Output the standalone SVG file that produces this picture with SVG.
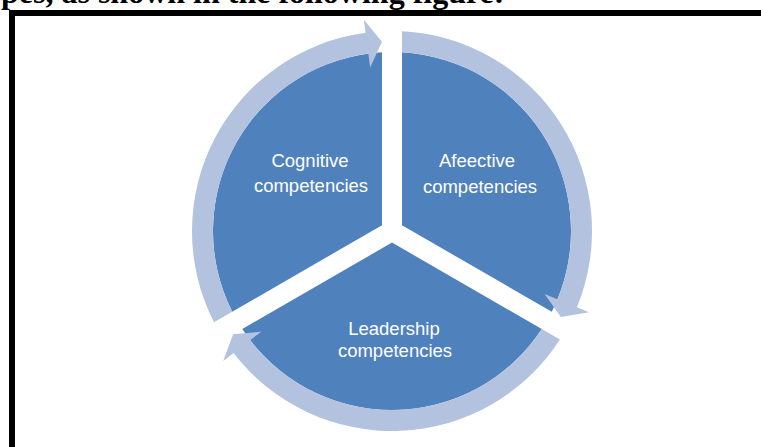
<svg xmlns="http://www.w3.org/2000/svg" width="761" height="447" viewBox="0 0 761 447">
<style>
.wedge{fill:#4F81BD}
.ring{fill:#B3C2DE}
.lbl{font-family:"Liberation Sans",Arial,sans-serif;font-size:18.5px;fill:#FFFFFF;text-anchor:middle}
.head{font-family:"Liberation Serif","Times New Roman",serif;font-size:32px;font-weight:bold;fill:#000000}
</style>
<rect x="0" y="0" width="761" height="447" fill="#FFFFFF"/>
<text class="head" x="1" y="2.5">pes, as shown in the following figure:</text>
<path d="M12,447 V13 H761" fill="none" stroke="#000000" stroke-width="6" stroke-linejoin="miter"/>
<g id="node-cognitive">
<path class="wedge" d="M382,225.23 L232.22,311.7 A179,179 0 0 1 382,52.28 Z"/>
<text class="lbl" x="310" y="167">Cognitive</text>
<text class="lbl" x="311" y="192">competencies</text>
</g>
<g id="node-affective">
<path class="wedge" d="M402,225.23 L402,52.28 A179,179 0 0 1 551.78,311.7 Z"/>
<text class="lbl" x="477" y="167">Afeective</text>
<text class="lbl" x="480" y="192.5">competencies</text>
</g>
<g id="node-leadership">
<path class="wedge" d="M392,242.55 L541.78,329.02 A179,179 0 0 1 242.22,329.02 Z"/>
<text class="lbl" x="394" y="335">Leadership</text>
<text class="lbl" x="395" y="357">competencies</text>
</g>
<g id="connectors">
<path class="ring" d="M214.01,322.21 A200,200 0 0 1 365.55,32.76 L363.83,19.87 L382,41.76 L370.18,67.45 L368.33,53.57 A179,179 0 0 0 232.22,311.7 Z"/>
<path class="ring" d="M402,31.25 A200,200 0 0 1 576.91,307.21 L588.93,312.17 L560.88,316.96 L544.55,293.88 L557.49,299.21 A179,179 0 0 0 402,52.28 Z"/>
<path class="ring" d="M559.98,339.55 A200,200 0 0 1 233.54,353.03 L223.24,360.96 L233.13,334.3 L261.27,331.67 L250.18,340.22 A179,179 0 0 0 541.78,329.02 Z"/>
</g>
</svg>
